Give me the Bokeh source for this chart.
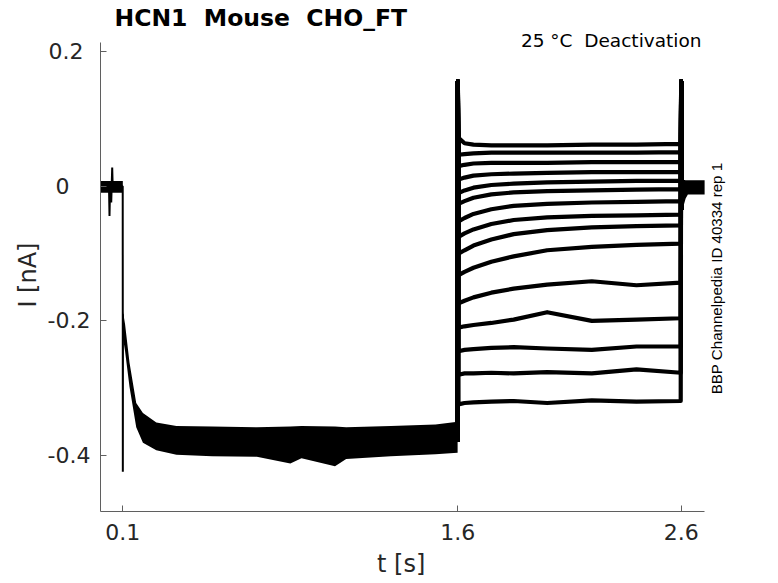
import math
from bokeh.plotting import figure
from bokeh.models import Range1d, Label, FixedTicker
from bokeh.embed import file_html
from bokeh.resources import INLINE

# ---------------- data ----------------
T_PRE_BAND = [0.0, 0.1]
PRE_UPPER = [0.008, 0.008]
PRE_LOWER = [-0.0095, -0.0095]

T_PRE = [0.0, 0.038, 0.0403, 0.043, 0.048, 0.0524, 0.055, 0.058, 0.0995, 0.1, 0.1006]
I_PRE = [0.0, 0.0, -0.044, 0.0, -0.024, 0.028, -0.005, 0.0, 0.0, -0.424, -0.19]

T_HOLD = [0.1006, 0.11, 0.13, 0.16, 0.19, 0.25, 0.34, 0.5, 0.7, 0.85, 0.9, 1.05, 1.1, 1.3, 1.5, 1.599]
HOLD_UPPER = [-0.186, -0.205, -0.262, -0.322, -0.337, -0.351, -0.356, -0.357, -0.358, -0.357, -0.356, -0.357, -0.358, -0.356, -0.354, -0.350]
HOLD_LOWER = [-0.225, -0.245, -0.298, -0.358, -0.381, -0.392, -0.399, -0.401, -0.402, -0.412, -0.404, -0.416, -0.405, -0.401, -0.398, -0.396]

T_DEACT = [1.603, 1.63, 1.67, 1.75, 1.85, 2.0, 2.2, 2.4, 2.598]
DEACT_1 = [0.072, 0.064, 0.062, 0.061, 0.061, 0.061, 0.062, 0.062, 0.063]
DEACT_2 = [0.047, 0.048, 0.049, 0.050, 0.050, 0.050, 0.050, 0.050, 0.051]
DEACT_3 = [0.030, 0.032, 0.034, 0.035, 0.035, 0.035, 0.036, 0.036, 0.036]
DEACT_4 = [0.010, 0.013, 0.016, 0.018, 0.019, 0.020, 0.021, 0.021, 0.021]
DEACT_5 = [-0.010, -0.006, -0.002, 0.002, 0.004, 0.006, 0.007, 0.008, 0.008]
DEACT_6 = [-0.026, -0.022, -0.017, -0.012, -0.009, -0.007, -0.006, -0.005, -0.004]
DEACT_7 = [-0.052, -0.047, -0.041, -0.034, -0.029, -0.026, -0.024, -0.023, -0.022]
DEACT_8 = [-0.075, -0.070, -0.064, -0.056, -0.050, -0.046, -0.044, -0.043, -0.042]
DEACT_9 = [-0.100, -0.095, -0.088, -0.079, -0.071, -0.065, -0.061, -0.059, -0.058]
DEACT_10 = [-0.132, -0.127, -0.121, -0.112, -0.104, -0.095, -0.090, -0.087, -0.085]
DEACT_11 = [-0.174, -0.170, -0.165, -0.158, -0.152, -0.146, -0.141, -0.147, -0.143]
DEACT_12 = [-0.210, -0.208, -0.206, -0.203, -0.198, -0.187, -0.200, -0.198, -0.196]
DEACT_13 = [-0.245, -0.243, -0.242, -0.240, -0.239, -0.241, -0.243, -0.238, -0.238]
DEACT_14 = [-0.280, -0.278, -0.278, -0.277, -0.278, -0.276, -0.278, -0.272, -0.277]
DEACT_15 = [-0.324, -0.322, -0.321, -0.320, -0.319, -0.322, -0.318, -0.320, -0.319]
DEACT_TRACES = [DEACT_1, DEACT_2, DEACT_3, DEACT_4, DEACT_5, DEACT_6, DEACT_7, DEACT_8,
                DEACT_9, DEACT_10, DEACT_11, DEACT_12, DEACT_13, DEACT_14, DEACT_15]

T_STEP1 = 1.6
T_STEP2 = 2.6
HOLD_LEVEL = -0.38
SPIKE_PEAK = 0.156
TAIL_START = -0.035

T_POST = [2.6008, 2.609, 2.62, 2.63, 2.65, 2.705]
POST_UPPER = [0.010, 0.010, 0.009, 0.009, 0.009, 0.009]
POST_LOWER = [-0.040, -0.031, -0.018, -0.012, -0.012, -0.012]

# axes extents (axis lines) and tick labels
X_AXIS = (0.0, 2.705)
Y_AXIS = (-0.4832, 0.2138)
X_TICKS = [0.1, 1.6, 2.6]
X_LABELS = ["0.1", "1.6", "2.6"]
Y_TICKS = [-0.4, -0.2, 0.0, 0.2]
Y_LABELS = ["-0.4", "-0.2", "0\u00a0\u00a0\u00a0", "0.2\u00a0"]

NB = "\u00a0"
X_TITLE = "t [s]" + NB * 9
Y_TITLE = "I [nA]" + NB * 5
TITLE = "HCN1 \u00a0Mouse \u00a0CHO_FT"
SUBTITLE = "25 \u00b0C \u00a0Deactivation"
SIDE_NOTE = "BBP Channelpedia ID 40334 rep 1"

# ---------------- figure ----------------
AX_COLOR = "#5f5f5f"
TXT_COLOR = "#262626"

# the frame also covers the text area above / right of the axes; the axis lines are bounded
p = figure(width=770, height=582,
           min_border_left=100, min_border_top=0, min_border_right=0, min_border_bottom=71,
           x_range=Range1d(0.0, 3.0), y_range=Range1d(-0.4832, 0.2762),
           output_backend="svg", toolbar_location=None, title=None)
p.outline_line_color = None
p.background_fill_color = "white"
p.border_fill_color = "white"
p.grid.visible = False

for ax in (p.xaxis[0], p.yaxis[0]):
    ax.axis_line_color = AX_COLOR
    ax.major_tick_line_color = AX_COLOR
    ax.major_tick_in = 6
    ax.major_tick_out = 0
    ax.minor_tick_line_color = None
    ax.major_label_text_font = "DejaVu Sans"
    ax.major_label_text_font_size = "22px"
    ax.major_label_text_color = TXT_COLOR
    ax.axis_label_text_font = "DejaVu Sans"
    ax.axis_label_text_font_size = "24px"
    ax.axis_label_text_font_style = "normal"
    ax.axis_label_text_color = TXT_COLOR

p.xaxis.bounds = X_AXIS
p.yaxis.bounds = Y_AXIS
p.xaxis.ticker = FixedTicker(ticks=X_TICKS)
p.xaxis.major_label_overrides = {t: l for t, l in zip(X_TICKS, X_LABELS)}
p.yaxis.ticker = FixedTicker(ticks=Y_TICKS)
p.yaxis.major_label_overrides = {t: l for t, l in zip(Y_TICKS, Y_LABELS)}
p.xaxis.axis_label = X_TITLE
p.yaxis.axis_label = Y_TITLE
p.xaxis.major_label_standoff = 12
p.xaxis.axis_label_standoff = 7
p.yaxis.major_label_standoff = 10
p.yaxis.axis_label_standoff = 3

# bands (noise envelopes of the overlapping sweeps)
p.varea(x=T_PRE_BAND, y1=PRE_LOWER, y2=PRE_UPPER, fill_color="black")
p.varea(x=T_HOLD, y1=HOLD_LOWER, y2=HOLD_UPPER, fill_color="black")
p.varea(x=T_POST, y1=POST_LOWER, y2=POST_UPPER, fill_color="black")

p.line(T_PRE, I_PRE, line_color="black", line_width=2)

for tr in DEACT_TRACES:
    xs = [T_STEP1 - 0.001, T_STEP1] + T_DEACT + [T_STEP2, T_STEP2 + 0.0008]
    ys = [HOLD_LEVEL, SPIKE_PEAK] + tr + [SPIKE_PEAK, TAIL_START]
    p.line(xs, ys, line_color="black", line_width=4.2, line_join="round")

# texts (inside the enlarged frame)
p.add_layout(Label(x=0.0627, y=0.2496, text=TITLE,
                   text_font="DejaVu Sans", text_font_style="bold", text_font_size="23.5px",
                   text_color="black", text_align="left", text_baseline="alphabetic"))
p.add_layout(Label(x=2.691, y=0.2168, text=SUBTITLE,
                   text_font="DejaVu Sans", text_font_size="18.5px", text_color="black",
                   text_align="right", text_baseline="alphabetic"))
p.add_layout(Label(x=2.756, y=-0.1369, text=SIDE_NOTE,
                   text_font="Liberation Sans", text_font_size="15.1px", text_color="black",
                   angle=math.pi / 2, text_align="center", text_baseline="middle"))

open("out.html", "w").write(file_html(p, INLINE))
